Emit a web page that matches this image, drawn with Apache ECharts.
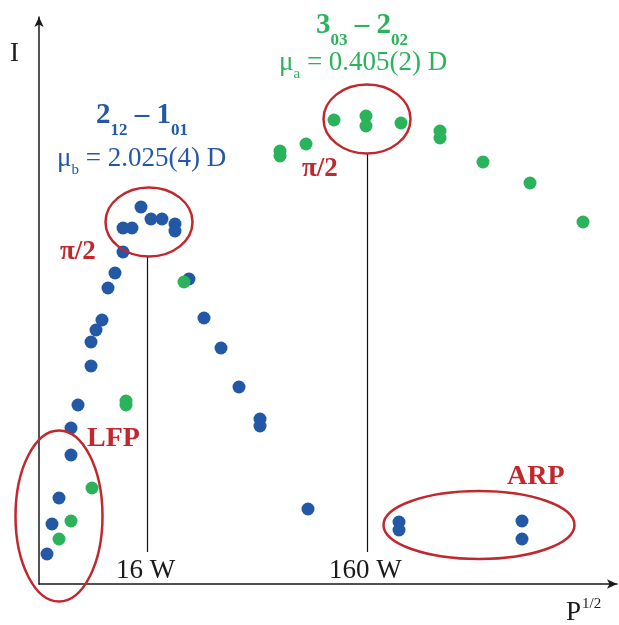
<!DOCTYPE html>
<html>
<head>
    <meta charset="utf-8">
    <title>Intensity vs P^1/2</title>
    <script src="https://cdn.jsdelivr.net/npm/echarts@6/dist/echarts.min.js"></script>
    <style>
        html, body {margin: 0; padding: 0; background: #fff;}
        #main {width: 619px; height: 625px;}
    </style>
</head>
<body>
<div id="main"></div>
<script type="text/javascript">
    // points, arbitrary units (x ~ P^1/2, y ~ intensity)
    var blueData = [
        [8, 30], [13, 60], [20, 86], [32, 129], [32, 156], [39, 179], [52, 218], [52, 242],
        [57, 254], [63, 264], [69, 296], [76, 311], [84, 332], [84, 356], [93, 356], [102, 377],
        [112, 365], [123, 365], [136, 360], [136, 353], [150, 305], [165, 266], [182, 236],
        [200, 197], [221, 165], [221, 158], [269, 75], [360, 62], [360, 54], [483, 63], [483, 45]
    ];
    var greenData = [
        [20, 45], [32, 63], [53, 96], [87, 183], [87, 179], [145, 302], [241, 433], [241, 428],
        [267, 440], [295, 464], [327, 468], [327, 458], [362, 461], [401, 453], [401, 446],
        [444, 422], [491, 401], [544, 362]
    ];
    // circled regions: [cx, cy, rx, ry]
    var circles = [
        [110, 362, 43.5, 34.5],
        [328, 465, 43.5, 34.5],
        [20, 68, 43.5, 85.5],
        [440, 59, 95.5, 34]
    ];
    // power markers: [x, yBottom, yTop]
    var markers = [
        [108, 32, 327],
        [328, 32, 430]
    ];

    var serif = '"Liberation Serif", "DejaVu Serif", serif';
    var blue = '#2358a6';
    var green = '#2bb35c';
    var red = '#c1272d';
    var ink = '#1a1a1a';

    var chart = echarts.init(document.getElementById('main'));

    chart.setOption({
        animation: false,
        grid: {left: 39, right: 2, top: 17, bottom: 41},
        xAxis: {
            type: 'value', min: 0, max: 578,
            splitLine: {show: false}, axisTick: {show: false}, axisLabel: {show: false},
            axisLine: {show: true, symbol: ['none', 'arrow'], symbolSize: [7, 10],
                lineStyle: {color: ink, width: 1.5}}
        },
        yAxis: {
            type: 'value', min: 0, max: 567,
            splitLine: {show: false}, axisTick: {show: false}, axisLabel: {show: false},
            axisLine: {show: true, symbol: ['none', 'arrow'], symbolSize: [7, 10],
                lineStyle: {color: ink, width: 1.5}}
        },
        series: [
            {
                type: 'custom',
                silent: true,
                data: markers,
                renderItem: function (params, api) {
                    var a = api.coord([api.value(0), api.value(1)]);
                    var b = api.coord([api.value(0), api.value(2)]);
                    var x = Math.round(a[0]) + 0.5;
                    return {
                        type: 'line',
                        shape: {x1: x, y1: a[1], x2: x, y2: b[1]},
                        style: {stroke: '#111', lineWidth: 1.2}
                    };
                }
            },
            {
                type: 'scatter',
                name: '2_12 - 1_01',
                data: blueData,
                symbolSize: 13,
                itemStyle: {color: blue, opacity: 1}
            },
            {
                type: 'scatter',
                name: '3_03 - 2_02',
                data: greenData,
                symbolSize: 13,
                itemStyle: {color: green, opacity: 1}
            },
            {
                type: 'custom',
                silent: true,
                data: circles,
                z: 5,
                renderItem: function (params, api) {
                    var c = api.coord([api.value(0), api.value(1)]);
                    var s = api.size([api.value(2), api.value(3)]);
                    return {
                        type: 'ellipse',
                        shape: {cx: c[0], cy: c[1], rx: s[0], ry: s[1]},
                        style: {fill: 'none', stroke: red, lineWidth: 2.5}
                    };
                }
            }
        ],
        graphic: [
            {type: 'text', left: 10, top: 40, style: {text: 'I', fontFamily: serif, fontSize: 27, fill: ink}},
            {type: 'text', left: 566, top: 597, style: {
                text: '{p|P}{u|1/2}',
                rich: {
                    p: {fontFamily: serif, fontSize: 27, fill: ink, verticalAlign: 'bottom'},
                    u: {fontFamily: serif, fontSize: 15, fill: ink, verticalAlign: 'bottom', padding: [0, 0, 14, 1]}
                }
            }},
            {type: 'text', left: 116, top: 557, style: {text: '16 W', fontFamily: serif, fontSize: 27, fill: ink}},
            {type: 'text', left: 329, top: 557, style: {text: '160 W', fontFamily: serif, fontSize: 27, fill: ink}},
            {type: 'text', left: 87, top: 425, style: {text: 'LFP', fontFamily: serif, fontSize: 28, fontWeight: 'bold', fill: red}},
            {type: 'text', left: 507, top: 463, style: {text: 'ARP', fontFamily: serif, fontSize: 28, fontWeight: 'bold', fill: red}},
            {type: 'text', left: 60, top: 239, style: {text: 'π/2', fontFamily: serif, fontSize: 27, fontWeight: 'bold', fill: red}},
            {type: 'text', left: 302, top: 156, style: {text: 'π/2', fontFamily: serif, fontSize: 27, fontWeight: 'bold', fill: red}},
            {type: 'text', left: 96, top: 101, style: {
                text: '{m|2}{s|12}{m| – 1}{s|01}',
                rich: {
                    m: {fontFamily: serif, fontSize: 29, fontWeight: 'bold', fill: blue, verticalAlign: 'bottom', padding: [0, 0, 9, 0]},
                    s: {fontFamily: serif, fontSize: 17, fontWeight: 'bold', fill: blue, verticalAlign: 'bottom'}
                }
            }},
            {type: 'text', left: 57, top: 145, style: {
                text: '{n|μ}{t|b}{n| = 2.025(4) D}',
                rich: {
                    n: {fontFamily: serif, fontSize: 27, fill: blue, verticalAlign: 'bottom', padding: [0, 0, 6, 0]},
                    t: {fontFamily: serif, fontSize: 15, fill: blue, verticalAlign: 'bottom'}
                }
            }},
            {type: 'text', left: 316, top: 11, style: {
                text: '{m|3}{s|03}{m| – 2}{s|02}',
                rich: {
                    m: {fontFamily: serif, fontSize: 29, fontWeight: 'bold', fill: green, verticalAlign: 'bottom', padding: [0, 0, 9, 0]},
                    s: {fontFamily: serif, fontSize: 17, fontWeight: 'bold', fill: green, verticalAlign: 'bottom'}
                }
            }},
            {type: 'text', left: 279, top: 49, style: {
                text: '{n|μ}{t|a}{n| = 0.405(2) D}',
                rich: {
                    n: {fontFamily: serif, fontSize: 27, fill: green, verticalAlign: 'bottom', padding: [0, 0, 6, 0]},
                    t: {fontFamily: serif, fontSize: 15, fill: green, verticalAlign: 'bottom'}
                }
            }}
        ]
    });
</script>
</body>
</html>
